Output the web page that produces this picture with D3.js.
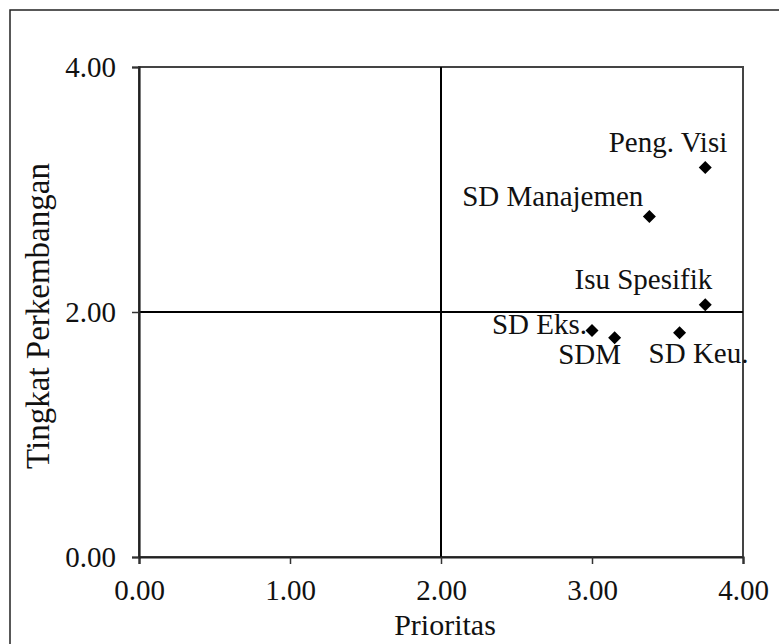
<!DOCTYPE html>
<html><head><meta charset="utf-8">
<script src="https://cdn.jsdelivr.net/npm/d3@7"></script>
<style>
html,body{margin:0;padding:0;background:#fff;}
text{font-family:"Liberation Serif","Times New Roman",serif;fill:#111;}
</style></head>
<body><svg id="c" width="779" height="644"></svg>
<script>
// Data
const names = ["Peng. Visi","SD Manajemen","Isu Spesifik","SD Eks.","SDM","SD Keu."];
const prioritas = [3.75, 3.38, 3.75, 3.00, 3.15, 3.58];
const perkembangan = [3.18, 2.78, 2.06, 1.85, 1.79, 1.83];
const xTicks = [0,1,2,3,4];
const yTicks = [0,2,4];
const xTitle = "Prioritas";
const yTitle = "Tingkat Perkembangan";

// label placement (anchor, dx, dy in px relative to point)
const labelPos = [
  ["end", 22, -15],
  ["end", -6, -10],
  ["end", 7, -16],
  ["end", -5, 4],
  ["middle", -25, 26],
  ["start", -31, 30]
];

const svg = d3.select("#c");
const L=139, T=67, R=743, B=557;
const x = d3.scaleLinear().domain([0,4]).range([L,R]);
const y = d3.scaleLinear().domain([0,4]).range([B,T]);
const fs = 29;

// outer frame
svg.append("rect").attr("x",10).attr("y",10).attr("width",800).attr("height",700)
  .attr("fill","none").attr("stroke","#222").attr("stroke-width",1.5);

// plot box
svg.append("rect").attr("x",L).attr("y",T).attr("width",R-L).attr("height",B-T)
  .attr("fill","none").attr("stroke","#444").attr("stroke-width",2);

// quadrant lines
svg.append("line").attr("x1",x(2)).attr("x2",x(2)).attr("y1",T).attr("y2",B)
  .attr("stroke","#000").attr("stroke-width",2);
svg.append("line").attr("x1",L).attr("x2",R).attr("y1",y(2)).attr("y2",y(2))
  .attr("stroke","#000").attr("stroke-width",2);

// axes
const xAxis = d3.axisBottom(x).tickValues(xTicks).tickFormat(d3.format(".2f")).tickSize(7).tickPadding(15);
const gx = svg.append("g").attr("transform",`translate(0,${B})`).call(xAxis);
const yAxis = d3.axisLeft(y).tickValues(yTicks).tickFormat(d3.format(".2f")).tickSize(7).tickPadding(16);
const gy = svg.append("g").attr("transform",`translate(${L},0)`).call(yAxis);
[gx,gy].forEach(g=>{
  g.select(".domain").attr("stroke","#222").attr("stroke-width",2.2);
  g.selectAll(".tick line").attr("stroke","#333").attr("stroke-width",1.5);
  g.selectAll(".tick text").attr("font-size",fs).attr("font-family","Liberation Serif, Times New Roman, serif").attr("fill","#111");
});

// titles
svg.append("text").attr("x",(L+R)/2+4).attr("y",635).attr("text-anchor","middle")
  .attr("font-size",fs+1).text(xTitle);
svg.append("text").attr("transform","translate(49,316) rotate(-90)").attr("text-anchor","middle")
  .attr("font-size",33).text(yTitle);

// points
const pts = names.map((n,i)=>({n, x:prioritas[i], y:perkembangan[i], lp:labelPos[i]}));
svg.selectAll("path.pt").data(pts).join("path").attr("class","pt")
  .attr("d","M0,-6.5L6.5,0L0,6.5L-6.5,0Z")
  .attr("transform",d=>`translate(${x(d.x)},${y(d.y)})`)
  .attr("fill","#000");
svg.selectAll("text.lbl").data(pts).join("text").attr("class","lbl")
  .attr("x",d=>x(d.x)+d.lp[1]).attr("y",d=>y(d.y)+d.lp[2])
  .attr("text-anchor",d=>d.lp[0]).attr("font-size",fs).text(d=>d.n);
</script></body></html>
